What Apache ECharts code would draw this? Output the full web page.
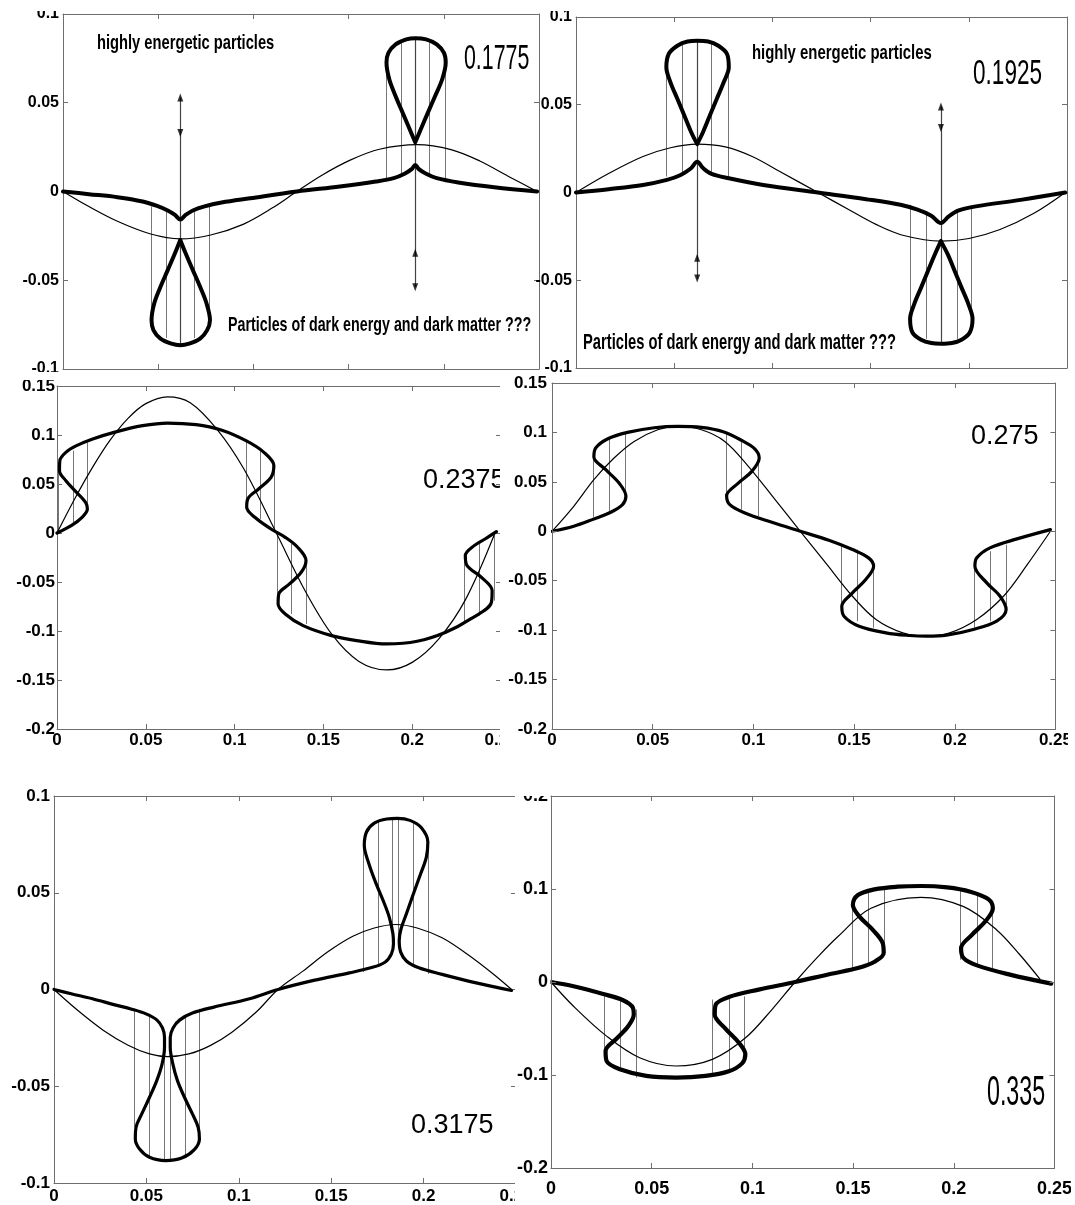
<!DOCTYPE html>
<html><head><meta charset="utf-8">
<script src="https://cdn.jsdelivr.net/npm/echarts@6/dist/echarts.min.js"></script>
<style>html,body{margin:0;padding:0;background:#fff}#c{width:1075px;height:1205px}</style>
</head><body><div id="c"></div><script>
// ---------- DATA ----------
// Panel A (t = 0.1775)
const A_thin = [[0,0],[0.0136,-0.0085],[0.0286,-0.0168],[0.0456,-0.0238],[0.0616,-0.0267],[0.0776,-0.0245],[0.0946,-0.0185],[0.1096,-0.0095],[0.1228,0],[0.136,0.0092],[0.1511,0.0178],[0.1662,0.0238],[0.186,0.0264],[0.2038,0.0236],[0.2189,0.0172],[0.234,0.0085],[0.249,0]];
const A_thick = [[0,0],[0.0136,-0.0015],[0.0286,-0.0032],[0.0418,-0.0056],[0.0494,-0.0081],[0.055,-0.0107],[0.0588,-0.0132],[0.0616,-0.0158],[0.0644,-0.0132],[0.0682,-0.0107],[0.0739,-0.0085],[0.0833,-0.0062],[0.0983,-0.0038],[0.1228,0],[0.1454,0.0028],[0.1643,0.0056],[0.1737,0.0075],[0.1794,0.01],[0.1831,0.0126],[0.185,0.015],[0.1869,0.0126],[0.1907,0.01],[0.1963,0.0075],[0.2076,0.0051],[0.2265,0.0024],[0.249,0]];
const A_loopL = [[0.0616,-0.0273],[0.0588,-0.0348],[0.055,-0.0443],[0.0512,-0.0537],[0.0479,-0.0631],[0.0465,-0.0725],[0.0475,-0.0781],[0.0512,-0.0829],[0.0569,-0.0857],[0.0616,-0.0866],[0.0663,-0.0857],[0.072,-0.0829],[0.0757,-0.0781],[0.0772,-0.0725],[0.0754,-0.0631],[0.072,-0.0537],[0.0682,-0.0443],[0.0644,-0.0348],[0.0616,-0.0273]];
const A_loopR = [[0.185,0.0277],[0.1822,0.0348],[0.1784,0.0443],[0.1747,0.0537],[0.1714,0.0631],[0.1699,0.0725],[0.1709,0.0781],[0.1747,0.0829],[0.1803,0.0857],[0.185,0.0864],[0.1907,0.0857],[0.1963,0.0829],[0.2001,0.0781],[0.201,0.0725],[0.1991,0.0631],[0.1954,0.0537],[0.1916,0.0443],[0.1878,0.0348],[0.185,0.0277]];
const A_vlines = [[0.0465,-0.0085,-0.0725],[0.0541,-0.0104,-0.0825],[0.0691,-0.01,-0.0825],[0.0767,-0.0075,-0.0725],[0.1699,0.0075,0.0725],[0.1779,0.0098,0.0845],[0.1925,0.0095,0.0845],[0.2006,0.0072,0.0725]];
const A_arrows = [[0.0616,0.053,-0.0866],[0.185,0.0864,-0.054]];
const A_tipUp = [[0.0616,0.053],[0.185,-0.0345]];
const A_tipDown = [[0.0616,0.033],[0.185,-0.054]];

// Panel B (t = 0.1925)
const B_thin = [[0,0],[0.0166,0.0108],[0.0341,0.0205],[0.0481,0.0255],[0.0617,0.0276],[0.076,0.026],[0.09,0.0204],[0.104,0.0118],[0.1232,0],[0.139,-0.0098],[0.153,-0.0183],[0.1669,-0.0245],[0.1858,-0.0277],[0.2001,-0.0262],[0.2159,-0.0211],[0.2334,-0.0117],[0.2491,0]];
const B_thick = [[0,0],[0.0166,0.0019],[0.0341,0.0043],[0.0463,0.0072],[0.0533,0.01],[0.0586,0.0138],[0.0617,0.0175],[0.0648,0.0138],[0.069,0.0106],[0.0778,0.0081],[0.0953,0.0043],[0.1232,0],[0.1477,-0.0038],[0.1652,-0.007],[0.1739,-0.0098],[0.1809,-0.0132],[0.1858,-0.0174],[0.1898,-0.0136],[0.1949,-0.0102],[0.2036,-0.0079],[0.2264,-0.0042],[0.2491,0]];
const B_loopL = [[0.0617,0.0276],[0.0586,0.0345],[0.0551,0.044],[0.0516,0.0534],[0.0481,0.0628],[0.046,0.0713],[0.0472,0.0789],[0.0516,0.0836],[0.0568,0.086],[0.0617,0.0864],[0.0673,0.086],[0.0725,0.0836],[0.0769,0.0789],[0.0778,0.0713],[0.0752,0.0628],[0.0717,0.0534],[0.0682,0.044],[0.0647,0.0345],[0.0617,0.0276]];
const B_loopR = [[0.1858,-0.0277],[0.1827,-0.0353],[0.1792,-0.0447],[0.1757,-0.0542],[0.1722,-0.0636],[0.1701,-0.0721],[0.1713,-0.0798],[0.1757,-0.0839],[0.1809,-0.0858],[0.1858,-0.0862],[0.1914,-0.0858],[0.1963,-0.0839],[0.2005,-0.0798],[0.2019,-0.0721],[0.1998,-0.0636],[0.1963,-0.0542],[0.1928,-0.0447],[0.1893,-0.0353],[0.1858,-0.0277]];
const B_vlines = [[0.046,0.0091,0.0713],[0.0542,0.0109,0.0845],[0.069,0.0106,0.0845],[0.0774,0.0081,0.0713],[0.1701,-0.007,-0.0721],[0.1783,-0.0108,-0.0834],[0.194,-0.0104,-0.0834],[0.2015,-0.0079,-0.0721]];
const B_arrows = [[0.0617,0.0864,-0.049],[0.1858,0.049,-0.0862]];
const B_tipUp = [[0.0617,-0.0372],[0.1858,0.049]];
const B_tipDown = [[0.0617,-0.049],[0.1858,0.0368]];

// Panel C (t = 0.2375)
const C_thin = [[0,0],[0.01,0.035],[0.02,0.067],[0.03,0.095],[0.04,0.117],[0.05,0.132],[0.0622,0.139],[0.075,0.133],[0.09,0.106],[0.105,0.066],[0.1235,0],[0.14,-0.06],[0.155,-0.104],[0.17,-0.131],[0.1857,-0.1397],[0.2,-0.132],[0.215,-0.108],[0.23,-0.068],[0.2466,0]];
const C_thick = [[0,0],[0.008,0.0075],[0.0141,0.016],[0.0171,0.0245],[0.0161,0.0313],[0.011,0.0415],[0.005,0.0534],[0.0014,0.0636],[0.0016,0.0738],[0.005,0.0823],[0.011,0.0891],[0.0201,0.0959],[0.0321,0.1027],[0.0482,0.1095],[0.0622,0.1122],[0.0783,0.1105],[0.0924,0.1051],[0.1064,0.0942],[0.1165,0.0823],[0.1221,0.0687],[0.1205,0.0568],[0.1135,0.0449],[0.1074,0.0347],[0.1068,0.0262],[0.1114,0.016],[0.1205,0.0041],[0.1285,-0.0044],[0.1355,-0.0146],[0.1402,-0.0282],[0.1375,-0.0401],[0.1309,-0.052],[0.1249,-0.0622],[0.1245,-0.0724],[0.1285,-0.0826],[0.1386,-0.0945],[0.1546,-0.1047],[0.1687,-0.1098],[0.1857,-0.1132],[0.2028,-0.1105],[0.2189,-0.1013],[0.2329,-0.0877],[0.2446,-0.0707],[0.245,-0.0588],[0.239,-0.0452],[0.2309,-0.0333],[0.2299,-0.0231],[0.2349,-0.0129],[0.241,-0.0061],[0.2474,0.0014]];
const C_vlines = [[0.0006,0.0027,0.067],[0.009,0.0109,0.084],[0.0171,0.0262,0.0925],[0.1064,0.0296,0.0942],[0.1145,0.0143,0.0857],[0.1225,0.0024,0.0687],[0.1241,-0.001,-0.0656],[0.1321,-0.0112,-0.0826],[0.1402,-0.0282,-0.0928],[0.2295,-0.0282,-0.0928],[0.2375,-0.0112,-0.0843],[0.246,-0.001,-0.069]];

// Panel D (t = 0.275)
const D_thin = [[0,0],[0.0108,0.0253],[0.0208,0.0522],[0.0308,0.0741],[0.0408,0.0909],[0.0525,0.1027],[0.0625,0.1061],[0.0742,0.1027],[0.0858,0.0909],[0.0975,0.0657],[0.1108,0.032],[0.1233,0],[0.1359,-0.032],[0.1492,-0.0657],[0.1609,-0.0892],[0.1742,-0.1027],[0.1859,-0.1061],[0.1975,-0.1027],[0.2109,-0.0892],[0.2242,-0.0657],[0.2359,-0.034],[0.2475,0]];
const D_thick = [[0,0],[0.0108,0.0051],[0.0208,0.0125],[0.0292,0.0192],[0.035,0.0269],[0.0367,0.0354],[0.0333,0.0488],[0.0267,0.0623],[0.0208,0.0751],[0.0217,0.0842],[0.0275,0.0933],[0.0375,0.1],[0.0508,0.1047],[0.0625,0.1061],[0.0742,0.1051],[0.085,0.1007],[0.0942,0.0919],[0.1008,0.0832],[0.1029,0.0741],[0.0992,0.0606],[0.0925,0.0488],[0.0867,0.036],[0.0883,0.0269],[0.0958,0.0185],[0.1092,0.0091],[0.1233,0],[0.1375,-0.0091],[0.1492,-0.0185],[0.1572,-0.0269],[0.1597,-0.0354],[0.1558,-0.0488],[0.1492,-0.0623],[0.1439,-0.0758],[0.145,-0.0859],[0.1525,-0.096],[0.1658,-0.1027],[0.1775,-0.1054],[0.1859,-0.1061],[0.1959,-0.1051],[0.2092,-0.0993],[0.2208,-0.0909],[0.2255,-0.0791],[0.2225,-0.0657],[0.2159,-0.0522],[0.21,-0.0354],[0.2109,-0.0269],[0.2175,-0.0168],[0.2309,-0.0077],[0.2475,0.0017]];
const D_vlines = [[0.0203,0.0145,0.0774],[0.0283,0.0202,0.0943],[0.0363,0.0303,0.0993],[0.0863,0.0337,0.0993],[0.0942,0.0219,0.0926],[0.1025,0.0152,0.0791],[0.1434,-0.0135,-0.0774],[0.1517,-0.0185,-0.0909],[0.1597,-0.0303,-0.0976],[0.2097,-0.032,-0.0976],[0.2175,-0.0202,-0.0909],[0.2255,-0.0135,-0.0791]];

// Panel E (t = 0.3175)
const E_thin = [[0,0],[0.0131,-0.011],[0.0266,-0.021],[0.0401,-0.0288],[0.0517,-0.0333],[0.0614,-0.0347],[0.073,-0.0333],[0.0845,-0.029],[0.0961,-0.0222],[0.1096,-0.0115],[0.1212,0],[0.1347,0.0095],[0.1482,0.0195],[0.1617,0.0275],[0.1733,0.0318],[0.1849,0.0336],[0.1965,0.0318],[0.21,0.0267],[0.2235,0.0183],[0.237,0.0085],[0.2476,0]];
const E_thick = [[0,0],[0.0093,-0.0022],[0.0208,-0.0048],[0.0324,-0.0078],[0.0421,-0.0102],[0.0498,-0.0126],[0.0556,-0.0157],[0.0587,-0.0198],[0.0598,-0.0247],[0.0598,-0.0298],[0.0585,-0.0384],[0.0556,-0.0471],[0.0517,-0.0557],[0.0475,-0.0643],[0.0444,-0.0712],[0.044,-0.0772],[0.0463,-0.0824],[0.0517,-0.0867],[0.0604,-0.0884],[0.0691,-0.0871],[0.0758,-0.0829],[0.0787,-0.0772],[0.078,-0.0712],[0.0749,-0.0643],[0.0706,-0.0557],[0.0668,-0.0471],[0.0643,-0.0384],[0.0629,-0.0298],[0.0629,-0.0247],[0.0645,-0.0198],[0.0681,-0.0157],[0.0749,-0.0122],[0.0865,-0.0091],[0.1058,-0.0048],[0.1212,0],[0.1405,0.0047],[0.1598,0.0086],[0.1714,0.0112],[0.1791,0.0141],[0.1826,0.0184],[0.1837,0.0236],[0.1834,0.0288],[0.1814,0.0374],[0.1781,0.046],[0.1743,0.0547],[0.1704,0.065],[0.1679,0.0745],[0.1691,0.0814],[0.1733,0.086],[0.1801,0.0881],[0.1859,0.0884],[0.1926,0.0874],[0.1988,0.0836],[0.2023,0.0762],[0.2015,0.0684],[0.1984,0.0598],[0.1945,0.0495],[0.1907,0.0391],[0.1878,0.0314],[0.1868,0.0253],[0.1876,0.0193],[0.1907,0.0147],[0.1974,0.0112],[0.21,0.0078],[0.2254,0.0041],[0.2476,-0.0005]];
const E_vlines = [[0.0436,-0.01,-0.0712],[0.0517,-0.0126,-0.0867],[0.0598,-0.0247,-0.0884],[0.0629,-0.0247,-0.0884],[0.071,-0.0134,-0.0867],[0.0787,-0.01,-0.0772],[0.1671,0.009,0.0762],[0.1752,0.0116,0.0865],[0.183,0.0253,0.0877],[0.1864,0.0253,0.0877],[0.1942,0.0116,0.087],[0.2023,0.0081,0.0762]];

// Panel F (t = 0.335)
const F_thin = [[0,0],[0.0112,-0.0261],[0.0276,-0.0582],[0.044,-0.0814],[0.0621,-0.0903],[0.0801,-0.0832],[0.0966,-0.06],[0.1097,-0.0296],[0.1212,0],[0.1327,0.0275],[0.1425,0.0489],[0.1589,0.0793],[0.1836,0.091],[0.2049,0.081],[0.2213,0.056],[0.2328,0.0293],[0.243,0.0025]];
const F_thick = [[0,0],[0.0112,-0.0046],[0.0259,-0.0129],[0.0358,-0.0196],[0.0407,-0.0278],[0.0411,-0.035],[0.0383,-0.0475],[0.0325,-0.061],[0.0271,-0.0743],[0.0276,-0.085],[0.0342,-0.0939],[0.0473,-0.101],[0.0621,-0.1028],[0.0768,-0.101],[0.0883,-0.096],[0.0949,-0.0875],[0.0965,-0.0778],[0.0933,-0.0653],[0.0867,-0.0503],[0.0813,-0.035],[0.0818,-0.0243],[0.0883,-0.0161],[0.1031,-0.0082],[0.1212,0],[0.1392,0.0089],[0.1524,0.015],[0.1609,0.0221],[0.1652,0.0311],[0.1647,0.0418],[0.1598,0.056],[0.1532,0.0703],[0.1499,0.0828],[0.1524,0.0935],[0.1606,0.0996],[0.1721,0.1025],[0.1836,0.1032],[0.1967,0.1017],[0.2082,0.0971],[0.2173,0.0889],[0.2194,0.0793],[0.2156,0.065],[0.209,0.0507],[0.2036,0.0364],[0.2049,0.0257],[0.2115,0.0179],[0.2279,0.0079],[0.2484,-0.0018]];
const F_vlines = [[0.0263,-0.0136,-0.076],[0.0342,-0.0171,-0.0921],[0.0424,-0.0296,-0.1028],[0.0801,-0.0189,-0.101],[0.0883,-0.0154,-0.0957],[0.0962,-0.0154,-0.0832],[0.1494,0.015,0.0846],[0.1573,0.0186,0.0971],[0.1655,0.0311,0.1007],[0.2033,0.0239,0.0989],[0.2115,0.0186,0.0935],[0.2189,0.015,0.0793]];

const timeLabels = ['0.1775','0.1925','0.2375','0.275','0.3175','0.335'];
const noteHigh = 'highly energetic particles';
const noteDark = 'Particles of dark energy and dark matter ???';

// ---------- LAYOUT ----------
const FONT = '"Liberation Sans",Arial,sans-serif';
const AXC = '#6e6e6e';
const panels = [
  {grid:{left:63,top:14,width:476,height:355}, y:[-0.1,0.1,0.05], xl:false, fs:16, ym:4, xm:3, zA:1, lw:4,
   thin:A_thin, thick:[A_thick,A_loopL,A_loopR], vl:A_vlines, ar:A_arrows, up:A_tipUp, dn:A_tipDown},
  {grid:{left:576,top:17,width:491,height:351}, y:[-0.1,0.1,0.05], xl:false, fs:16, ym:4, xm:3, zA:1, lw:4,
   thin:B_thin, thick:[B_thick,B_loopL,B_loopR], vl:B_vlines, ar:B_arrows, up:B_tipUp, dn:B_tipDown},
  {grid:{left:57,top:386,width:444,height:343}, y:[-0.2,0.15,0.05], xl:true, fs:17, ym:2, xm:3, zA:1, lw:3.2,
   thin:C_thin, thick:[C_thick], vl:C_vlines},
  {grid:{left:552,top:383,width:512,height:346}, y:[-0.2,0.15,0.05], xl:true, fs:17, ym:5, xm:3, zA:30, lw:3.2,
   thin:D_thin, thick:[D_thick], vl:D_vlines},
  {grid:{left:54,top:796,width:462,height:388}, y:[-0.1,0.1,0.05], xl:true, fs:17, ym:4, xm:5, zA:1, lw:3.2,
   thin:E_thin, thick:[E_thick], vl:E_vlines},
  {grid:{left:551,top:796,width:518,height:372}, y:[-0.2,0.2,0.1], xl:true, fs:18, ym:3, xm:12, zA:30, lw:4.2,
   thin:F_thin, thick:[F_thick], vl:F_vlines},
];
const notes = [
  {t:noteHigh, x:97, y:43, fs:21, bold:true, sx:0.70, z:50},
  {t:timeLabels[0], x:464, y:59.5, fs:35, bold:false, sx:0.61, z:50},
  {t:noteDark, x:228, y:325, fs:21, bold:true, sx:0.68, z:50},
  {t:noteHigh, x:752, y:53, fs:21, bold:true, sx:0.71, z:50},
  {t:timeLabels[1], x:973, y:74.5, fs:35, bold:false, sx:0.645, z:50},
  {t:noteDark, x:583, y:343, fs:22, bold:true, sx:0.67, z:50},
  {t:timeLabels[2], x:423, y:480.5, fs:27, bold:false, sx:1, z:10},
  {t:timeLabels[3], x:971, y:436.5, fs:27, bold:false, sx:1, z:50},
  {t:timeLabels[4], x:411, y:1125.5, fs:27, bold:false, sx:1, z:10},
  {t:timeLabels[5], x:987, y:1093, fs:43, bold:false, sx:0.54, z:50},
];

const fmt = v => String(Math.round(v*1000)/1000);
const grid = [], xAxis = [], yAxis = [], series = [];
panels.forEach((p, i) => {
  grid.push(Object.assign({containLabel:false}, p.grid));
  const line = {show:true, onZero:false, lineStyle:{color:AXC, width:1}};
  const tick = {show:true, inside:true, length:5, lineStyle:{color:AXC}};
  const lab = {fontFamily:FONT, fontWeight:'bold', fontSize:p.fs, color:'#000', formatter:fmt};
  xAxis.push({gridIndex:i, type:'value', min:0, max:0.25, interval:0.05, position:'bottom', z:p.zA,
    axisLine:line, axisTick:tick, splitLine:{show:false},
    axisLabel:Object.assign({show:p.xl, margin:p.xm}, lab)});
  xAxis.push({gridIndex:i, type:'value', min:0, max:0.25, interval:0.05, position:'top', z:p.zA,
    axisLine:line, axisTick:tick, splitLine:{show:false}, axisLabel:{show:false}});
  yAxis.push({gridIndex:i, type:'value', min:p.y[0], max:p.y[1], interval:p.y[2], position:'left', z:p.zA,
    axisLine:line, axisTick:tick, splitLine:{show:false},
    axisLabel:Object.assign({show:true, margin:p.ym}, lab)});
  yAxis.push({gridIndex:i, type:'value', min:p.y[0], max:p.y[1], interval:p.y[2], position:'right', z:p.zA,
    axisLine:line, axisTick:tick, splitLine:{show:false}, axisLabel:{show:false}});
  const xi = 2*i, yi = 2*i;
  series.push({type:'lines', coordinateSystem:'cartesian2d', xAxisIndex:xi, yAxisIndex:yi, z:2, silent:true,
    data:p.vl.map(v => ({coords:[[v[0],v[1]],[v[0],v[2]]]})),
    lineStyle:{color:'#777', width:1, opacity:1}});
  if (p.ar) series.push({type:'lines', coordinateSystem:'cartesian2d', xAxisIndex:xi, yAxisIndex:yi, z:2, silent:true,
    data:p.ar.map(v => ({coords:[[v[0],v[1]],[v[0],v[2]]]})),
    lineStyle:{color:'#444', width:1.2, opacity:1}});
  series.push({type:'line', xAxisIndex:xi, yAxisIndex:yi, data:p.thin, showSymbol:false, symbol:'none',
    smooth:0.35, z:3, lineStyle:{color:'#000', width:1.2}});
  p.thick.forEach(seg => series.push({type:'line', xAxisIndex:xi, yAxisIndex:yi, data:seg, showSymbol:false,
    symbol:'none', smooth:0.35, z:4, lineStyle:{color:'#000', width:p.lw, cap:'round', join:'round'}}));
  if (p.up) {
    series.push({type:'scatter', xAxisIndex:xi, yAxisIndex:yi, z:5, symbol:'triangle', symbolSize:[6,8],
      itemStyle:{color:'#000'}, data:p.up});
    series.push({type:'scatter', xAxisIndex:xi, yAxisIndex:yi, z:5, symbol:'triangle', symbolSize:[6,8],
      symbolRotate:180, itemStyle:{color:'#000'}, data:p.dn});
  }
});

const graphic = [
  {type:'rect', z:40, shape:{x:0, y:0, width:1075, height:11}, style:{fill:'#fff'}},
  {type:'rect', z:20, shape:{x:0, y:372, width:1075, height:8}, style:{fill:'#fff'}},
  {type:'rect', z:20, shape:{x:500, y:381, width:51, height:380}, style:{fill:'#fff'}},
  {type:'rect', z:20, shape:{x:515, y:762, width:35.5, height:443}, style:{fill:'#fff'}},
  {type:'rect', z:40, shape:{x:515, y:770, width:35.5, height:26}, style:{fill:'#fff'}},
  {type:'rect', z:40, shape:{x:1068, y:731, width:7, height:30}, style:{fill:'#fff'}},
  {type:'rect', z:40, shape:{x:1071, y:1172, width:4, height:33}, style:{fill:'#fff'}},
];
notes.forEach(n => graphic.push({type:'text', z:n.z, x:n.x, y:n.y, scaleX:n.sx, scaleY:1,
  style:{text:n.t, fill:'#000', font:(n.bold?'bold ':'')+n.fs+'px "Liberation Sans", Arial, sans-serif',
  textAlign:'left', textVerticalAlign:'middle'}}));

const chart = echarts.init(document.getElementById('c'), null, {renderer:'canvas'});
chart.setOption({animation:false, backgroundColor:'#fff', grid, xAxis, yAxis, series, graphic});
</script></body></html>
